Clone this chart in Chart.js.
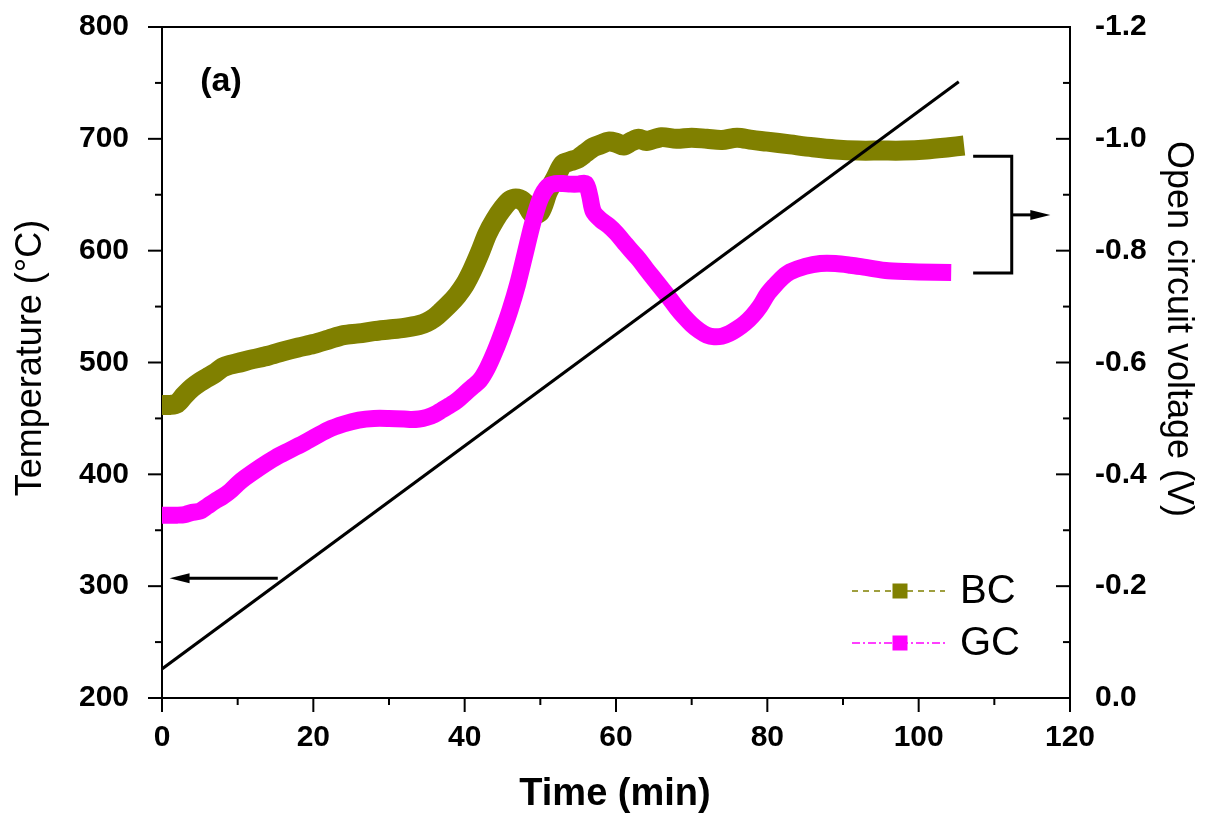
<!DOCTYPE html>
<html><head><meta charset="utf-8">
<script src="https://cdn.jsdelivr.net/npm/chart.js@4.4.0/dist/chart.umd.min.js"></script>
<style>html,body{margin:0;padding:0;background:#fff}#wrap{width:1205px;height:816px;position:relative}</style>
</head><body><div id="wrap"><canvas id="c"></canvas></div>
<script>
// ---- data ----
const timeTicks = [0, 20, 40, 60, 80, 100, 120];
const tempTicks = [200, 300, 400, 500, 600, 700, 800];
const voltTicks = [0.0, -0.2, -0.4, -0.6, -0.8, -1.0, -1.2];
const timeMinor = [10, 30, 50, 70, 90, 110];
const tempMinor = [250, 350, 450, 550, 650, 750];
const voltMinor = [-0.1, -0.3, -0.5, -0.7, -0.9, -1.1];

const rampTime = [0, 105.3];
const rampTemp = [226, 751];

const bcTime = [0,1,2,3,4,5,6,7,8,9,10,12,14,16,18,20,22,24,26,28,30,32,34,35,36,37,38,39,40,41,42,43,44,45,46,47,48,49,50,51,52,53,54,55,56,57,58,59,60,61,62,63,64,66,68,70,72,74,76,78,80,83,86,89,92,95,98,101,104,106];
const bcVolt = [-0.524,-0.524,-0.527,-0.542,-0.555,-0.565,-0.573,-0.581,-0.591,-0.596,-0.599,-0.606,-0.612,-0.620,-0.627,-0.633,-0.641,-0.649,-0.652,-0.656,-0.659,-0.662,-0.667,-0.672,-0.680,-0.692,-0.705,-0.720,-0.739,-0.765,-0.796,-0.830,-0.855,-0.875,-0.890,-0.893,-0.885,-0.865,-0.870,-0.905,-0.930,-0.955,-0.960,-0.965,-0.975,-0.985,-0.990,-0.995,-0.993,-0.988,-0.995,-1.000,-0.996,-1.003,-1.000,-1.002,-1.000,-0.998,-1.002,-0.998,-0.995,-0.990,-0.985,-0.981,-0.979,-0.979,-0.979,-0.981,-0.985,-0.988];

const gcTime = [0,1,2,3,4,5,6,7,8,9,10,11,13,15,17,19,22,24,26,28,30,32,33,34,35,36,37,38,39,40,41,42,43,44,45,46,47,48,49,50,51,52,53,54,55,56,56.5,57,58,59,60,61,62,63,64,65,66,67,68,69,70,71,72,73,74,75,76,77,78,79,80,81,82,83,85,87,89,91,93,96,100,104.3];
const gcVolt = [-0.327,-0.327,-0.327,-0.328,-0.332,-0.334,-0.343,-0.352,-0.360,-0.370,-0.383,-0.394,-0.413,-0.430,-0.444,-0.458,-0.480,-0.490,-0.497,-0.500,-0.500,-0.499,-0.498,-0.499,-0.502,-0.507,-0.515,-0.523,-0.532,-0.544,-0.556,-0.568,-0.590,-0.620,-0.655,-0.694,-0.740,-0.795,-0.850,-0.893,-0.915,-0.920,-0.920,-0.919,-0.919,-0.920,-0.900,-0.870,-0.855,-0.845,-0.832,-0.816,-0.800,-0.785,-0.767,-0.750,-0.733,-0.716,-0.698,-0.682,-0.668,-0.657,-0.649,-0.646,-0.647,-0.652,-0.660,-0.670,-0.683,-0.700,-0.722,-0.738,-0.752,-0.762,-0.772,-0.777,-0.777,-0.774,-0.770,-0.764,-0.762,-0.761];

const seriesNames = ['BC', 'GC'];
const seriesColors = ['#808000', '#ff00ff'];
const panelLabel = '(a)';
const xTitle = 'Time (min)';
const yLeftTitle = 'Temperature (\u00B0C)';
const yRightTitle = 'Open circuit voltage (V)';

// annotation anchors in data units
const leftArrow = {from: 15.3, to: 1.0, temp: 307};
const bracket = {x0: 107.2, x1: 112.3, top: -0.969, bottom: -0.760, mid: -0.864, tip: 117.4};

// ---- chart ----
const toXY = (xs, ys) => xs.map((x, i) => ({x: x, y: ys[i]}));
const tickFont = {family: 'Liberation Sans', size: 30, weight: 'bold'};

const decor = {
  id: 'decor',
  afterDraw(chart) {
    const c = chart.ctx, x = chart.scales.x, yT = chart.scales.yT, yV = chart.scales.yV;
    const a = chart.chartArea;
    c.save();
    c.strokeStyle = '#000'; c.fillStyle = '#000'; c.lineWidth = 2; c.lineCap = 'butt';
    // top frame
    c.beginPath(); c.moveTo(a.left - 1, a.top); c.lineTo(a.right + 1, a.top); c.stroke();
    // ticks
    const line = (x1, y1, x2, y2) => { c.beginPath(); c.moveTo(x1, y1); c.lineTo(x2, y2); c.stroke(); };
    timeTicks.forEach(v => { const p = x.getPixelForValue(v); line(p, a.bottom, p, a.bottom + 14); });
    timeMinor.forEach(v => { const p = x.getPixelForValue(v); line(p, a.bottom, p, a.bottom + 7); });
    tempTicks.forEach(v => { const p = yT.getPixelForValue(v); line(a.left - 14, p, a.left, p); });
    tempMinor.forEach(v => { const p = yT.getPixelForValue(v); line(a.left - 7, p, a.left, p); });
    voltTicks.forEach(v => { const p = yV.getPixelForValue(v); line(a.right - 14, p, a.right, p); });
    voltMinor.forEach(v => { const p = yV.getPixelForValue(v); line(a.right - 7, p, a.right, p); });

    // left arrow
    c.lineWidth = 3;
    const ay = yT.getPixelForValue(leftArrow.temp);
    const ax0 = x.getPixelForValue(leftArrow.from), ax1 = x.getPixelForValue(leftArrow.to);
    line(ax0, ay, ax1 + 14, ay);
    c.beginPath(); c.moveTo(ax1, ay); c.lineTo(ax1 + 20, ay - 5); c.lineTo(ax1 + 20, ay + 5); c.closePath(); c.fill();
    // bracket
    const bx0 = x.getPixelForValue(bracket.x0), bx1 = x.getPixelForValue(bracket.x1), bt = x.getPixelForValue(bracket.tip);
    const byT = yV.getPixelForValue(bracket.top), byB = yV.getPixelForValue(bracket.bottom), byM = yV.getPixelForValue(bracket.mid);
    c.beginPath(); c.moveTo(bx0, byT); c.lineTo(bx1, byT); c.lineTo(bx1, byB); c.lineTo(bx0, byB); c.stroke();
    line(bx1, byM, bt - 14, byM);
    c.beginPath(); c.moveTo(bt, byM); c.lineTo(bt - 20, byM - 5); c.lineTo(bt - 20, byM + 5); c.closePath(); c.fill();

    // legend
    const legY = [591, 643];
    const dashes = [[6, 5], [8, 3, 2, 3]];
    seriesNames.forEach((name, i) => {
      c.strokeStyle = seriesColors[i]; c.lineWidth = 1.5; c.setLineDash(dashes[i]);
      line(852, legY[i], 945, legY[i]);
      c.setLineDash([]);
      c.fillStyle = seriesColors[i];
      c.fillRect(900 - 7.5, legY[i] - 7.5, 15, 15);
      c.fillStyle = '#000';
      c.font = '40px "Liberation Sans"';
      c.textAlign = 'left'; c.textBaseline = 'middle';
      c.fillText(name, 960, legY[i] + 1);
    });

    // panel label
    c.fillStyle = '#000';
    c.font = 'bold 34px "Liberation Sans"';
    c.textAlign = 'center'; c.textBaseline = 'middle';
    c.fillText(panelLabel, 221, 82);

    // axis titles
    c.font = 'bold 38px "Liberation Sans"';
    c.fillText(xTitle, 615, 795);
    c.font = '36px "Liberation Sans"';
    c.save(); c.translate(31, 358); c.rotate(-Math.PI / 2); c.fillText(yLeftTitle, 0, 0); c.restore();
    c.save(); c.translate(1178, 329); c.rotate(Math.PI / 2); c.fillText(yRightTitle, 0, 0); c.restore();
    c.restore();
  }
};

const fitV = w => function (s) { s.width = w; s.paddingTop = 0; s.paddingBottom = 0; };

new Chart(document.getElementById('c'), {
  type: 'line',
  data: {
    datasets: [
      {label: 'Temperature', data: toXY(rampTime, rampTemp), yAxisID: 'yT', borderColor: '#000', borderWidth: 3, pointRadius: 0, order: 0},
      {label: seriesNames[1], data: toXY(gcTime, gcVolt), yAxisID: 'yV', borderColor: seriesColors[1], borderWidth: 17, pointRadius: 0, tension: 0.3, borderCapStyle: 'butt', borderJoinStyle: 'round', order: 1},
      {label: seriesNames[0], data: toXY(bcTime, bcVolt), yAxisID: 'yV', borderColor: seriesColors[0], borderWidth: 20, pointRadius: 0, tension: 0.3, borderCapStyle: 'butt', borderJoinStyle: 'round', order: 2}
    ]
  },
  options: {
    responsive: true, maintainAspectRatio: false, animation: false,
    layout: {padding: {top: 27, left: 0, right: 0, bottom: 0}},
    plugins: {legend: {display: false}, tooltip: {enabled: false}},
    scales: {
      x: {
        type: 'linear', min: 0, max: 120,
        afterFit(s) { s.height = 118; s.paddingLeft = 0; s.paddingRight = 0; },
        afterBuildTicks(s) { s.ticks = timeTicks.map(v => ({value: v})); },
        grid: {display: false}, border: {display: true, color: '#000', width: 2},
        ticks: {font: tickFont, color: '#000', padding: 14, autoSkip: false, maxRotation: 0}
      },
      yT: {
        type: 'linear', position: 'left', min: 200, max: 800,
        afterFit: fitV(162),
        afterBuildTicks(s) { s.ticks = tempTicks.map(v => ({value: v})); },
        grid: {display: false}, border: {display: true, color: '#000', width: 2},
        ticks: {font: tickFont, color: '#000', padding: 25, autoSkip: false}
      },
      yV: {
        type: 'linear', position: 'right', min: -1.2, max: 0, reverse: true,
        afterFit: fitV(135),
        afterBuildTicks(s) { s.ticks = voltTicks.map(v => ({value: v})); },
        grid: {display: false}, border: {display: true, color: '#000', width: 2},
        ticks: {font: tickFont, color: '#000', padding: 17, autoSkip: false, callback: v => Number(v).toFixed(1)}
      }
    }
  },
  plugins: [decor]
});
</script></body></html>
